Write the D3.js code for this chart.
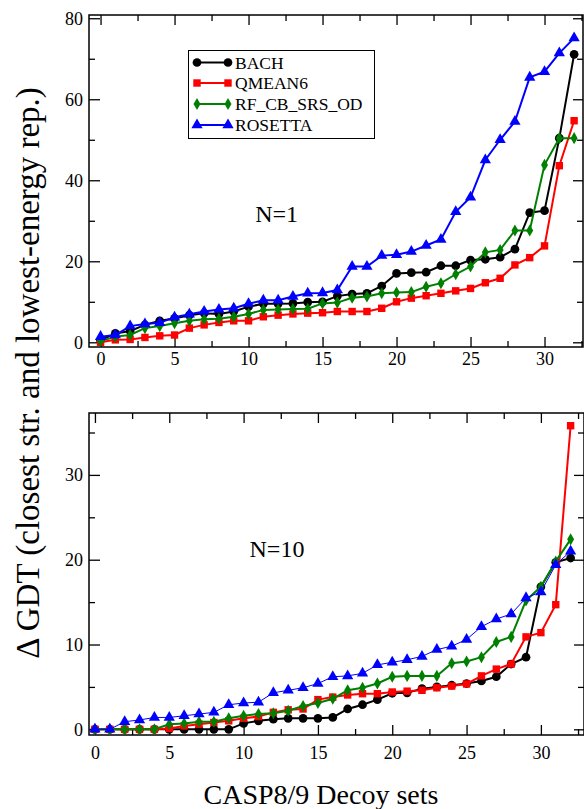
<!DOCTYPE html>
<html><head><meta charset="utf-8">
<script src="https://cdn.jsdelivr.net/npm/d3@7"></script>
<style>body{margin:0;background:#fff}svg{display:block}text{font-family:"Liberation Serif","Times New Roman",serif}</style>
</head><body>
<svg id="c" width="584" height="809"></svg>
<script>
const seriesNames = ["BACH","QMEAN6","RF_CB_SRS_OD","ROSETTA"];
const seriesColors = ["#000000","#ff0000","#008000","#0000ff"];
const seriesSymbols = ["circle","square","diamond","triangle"];
const xValues = d3.range(0,33);
// Top panel N=1
const topBACH = [0.5,2.2,2.8,4.3,5.3,5.9,6.7,7.2,7.0,7.6,8.8,9.5,9.5,9.6,9.9,10.0,11.4,11.9,12.1,13.9,17.0,17.2,17.3,18.9,18.9,20.3,20.5,21.0,23.0,32.0,32.5,50.4,71.1];
const topQMEAN6 = [0.0,0.6,0.7,1.2,1.6,1.8,3.5,4.3,4.9,5.3,5.3,6.3,6.7,7.0,7.2,7.3,7.6,7.6,7.6,8.4,10.0,10.9,11.5,12.1,12.7,13.3,14.7,15.8,19.1,20.9,23.8,43.6,54.7];
const topRF = [0.3,1.4,1.8,3.5,4.0,4.7,5.3,5.7,5.8,6.3,7.0,8.0,8.1,8.2,8.3,9.6,9.8,11.0,11.3,12.1,12.3,12.4,13.7,14.6,16.8,18.7,22.2,22.8,27.6,27.6,43.8,50.4,50.4];
const topROSETTA = [1.4,1.8,4.0,4.5,4.8,6.2,6.9,7.6,8.1,8.4,9.5,10.4,10.4,11.3,12.1,12.2,12.9,18.7,18.7,21.4,21.6,22.4,23.9,25.4,32.2,35.8,45.0,50.0,54.5,65.4,66.8,71.4,75.1];
// Bottom panel N=10
const botBACH = [0,0,0,0,0,0,0,0,0,0,0.7,1.0,1.2,1.3,1.3,1.3,1.4,2.4,2.9,3.5,4.25,4.3,4.8,5.0,5.2,5.4,5.7,6.2,7.7,8.5,16.8,19.7,20.2];
const botQMEAN6 = [0,0,0,0,0,0.1,0.4,0.6,0.8,1.0,1.3,1.5,2.0,2.3,2.4,3.5,3.8,4.05,4.2,4.2,4.4,4.5,4.6,4.9,5.1,5.35,6.3,7.1,7.7,10.9,11.4,14.7,35.8];
const botRF = [0,0,0,0,0,0.6,0.7,0.9,0.9,1.3,1.6,1.8,1.9,2.2,2.75,3.1,3.6,4.6,4.9,5.4,6.2,6.3,6.3,6.3,7.8,8.0,8.5,10.3,10.9,15.2,16.8,19.8,22.4];
const botROSETTA = [0,0,0.9,1.1,1.4,1.4,1.6,1.8,2.0,2.9,3.1,3.2,4.3,4.6,4.9,5.4,6.2,6.3,6.6,7.6,7.9,8.2,8.6,9.4,9.8,10.6,12.1,13.0,13.6,15.5,16.2,19.4,21.0];
const xMajorTicks = [0,5,10,15,20,25,30];
const xMinorTicks = [2.5,7.5,12.5,17.5,22.5,27.5,32.5];
const topYMajor = [0,20,40,60,80], topYMinor = [10,30,50,70];
const botYMajor = [0,10,20,30], botYMinor = [5,15,25,35];

const FONT = '"Liberation Serif","Times New Roman",serif';
const svg = d3.select("#c");

function symbolOf(k){
  const types = {circle:d3.symbolCircle, square:d3.symbolSquare, diamond:d3.symbolDiamond, triangle:d3.symbolTriangle};
  const sizes = {circle:60, square:55, diamond:42, triangle:55};
  return d3.symbol().type(types[seriesSymbols[k]]).size(sizes[seriesSymbols[k]])();
}

function panel(cfg){
  const x = d3.scaleLinear().domain(cfg.xdom).range([cfg.left, cfg.right]);
  const y = d3.scaleLinear().domain(cfg.ydom).range([cfg.bottom, cfg.top]);
  const g = svg.append("g");
  const W = cfg.right-cfg.left, H = cfg.bottom-cfg.top;
  const xm = xMinorTicks.filter(v=>x(v)<cfg.right);
  const axB = d3.axisBottom(x).tickValues(xMajorTicks).tickSize(-10).tickPadding(cfg.xpad).tickFormat(d3.format("d"));
  const axBm = d3.axisBottom(x).tickValues(xm).tickSize(-6).tickFormat("");
  const axT = d3.axisTop(x).tickValues(xMajorTicks).tickSize(-10).tickFormat("");
  const axTm = d3.axisTop(x).tickValues(xm).tickSize(-6).tickFormat("");
  const axL = d3.axisLeft(y).tickValues(cfg.yMajor).tickSize(-11).tickPadding(6).tickFormat(d3.format("d"));
  const axLm = d3.axisLeft(y).tickValues(cfg.yMinor).tickSize(-6).tickFormat("");
  const axR = d3.axisRight(y).tickValues(cfg.yMajor).tickSize(-10).tickFormat("");
  const axRm = d3.axisRight(y).tickValues(cfg.yMinor).tickSize(-6).tickFormat("");
  const ax = [[axB,`translate(0,${cfg.bottom})`],[axBm,`translate(0,${cfg.bottom})`],
    [axT,`translate(0,${cfg.top})`],[axTm,`translate(0,${cfg.top})`],
    [axL,`translate(${cfg.left},0)`],[axLm,`translate(${cfg.left},0)`],
    [axR,`translate(${cfg.right},0)`],[axRm,`translate(${cfg.right},0)`]];
  ax.forEach(([a,t])=>{
    const s = g.append("g").attr("transform",t).call(a).attr("font-family",FONT).attr("font-size",18);
    s.select(".domain").remove();
    s.selectAll("line").attr("stroke","#000").attr("stroke-width",1.3);
    s.selectAll("text").attr("fill","#000");
  });
  g.append("rect").attr("x",cfg.left).attr("y",cfg.top).attr("width",W).attr("height",H)
    .attr("fill","none").attr("stroke","#000").attr("stroke-width",1.5);
  const line = d3.line().x((d,i)=>x(xValues[i])).y(d=>y(d));
  cfg.data.forEach((vals,k)=>{
    const sw = (cfg.thinBlue && k===3) ? 1 : 2;
    g.append("path").datum(vals).attr("d",line).attr("fill","none")
      .attr("stroke",seriesColors[k]).attr("stroke-width",sw);
    const sym = symbolOf(k);
    g.append("g").selectAll("path").data(vals).join("path")
      .attr("transform",(d,i)=>`translate(${x(xValues[i])},${y(d)})`)
      .attr("d",sym).attr("fill",seriesColors[k]);
  });
  g.append("text").attr("x",x(cfg.labelX)).attr("y",y(cfg.labelY)).attr("font-size",24)
    .attr("font-family",FONT).attr("fill","#000").text(cfg.label);
  return {x,y,g};
}

panel({left:89,right:583,top:15,bottom:347,xdom:[-0.78,32.6],ydom:[-1.16,80.8],xpad:5,
  yMajor:topYMajor,yMinor:topYMinor,data:[topBACH,topQMEAN6,topRF,topROSETTA],
  label:"N=1",labelX:10.45,labelY:29.7});
panel({left:89,right:584,top:413,bottom:735,xdom:[-0.40,32.9],ydom:[-0.67,37.3],xpad:11,
  yMajor:botYMajor,yMinor:botYMinor,data:[botBACH,botQMEAN6,botRF,botROSETTA],thinBlue:true,
  label:"N=10",labelX:10.4,labelY:20.3});

// legend
const lg = svg.append("g").attr("font-family",FONT);
lg.append("rect").attr("x",188.5).attr("y",50.5).attr("width",186).attr("height",88)
  .attr("fill","#fff").attr("stroke","#000").attr("stroke-width",1);
seriesNames.forEach((n,k)=>{
  const yy = [62.5,83,104,125][k];
  lg.append("line").attr("x1",197).attr("x2",228).attr("y1",yy).attr("y2",yy)
    .attr("stroke",seriesColors[k]).attr("stroke-width",2);
  [197,228].forEach(xx=>lg.append("path").attr("transform",`translate(${xx},${yy})`)
    .attr("d",symbolOf(k)).attr("fill",seriesColors[k]));
  lg.append("text").attr("x",235).attr("y",yy+6).attr("font-size",17.5).attr("fill","#000").text(n);
});

// axis titles
svg.append("text").attr("x",321).attr("y",804).attr("text-anchor","middle").attr("font-size",28)
  .attr("font-family",FONT).attr("fill","#000").text("CASP8/9 Decoy sets");
svg.append("text").attr("transform","translate(39,373) rotate(-90)").attr("text-anchor","middle")
  .attr("font-size",33).attr("font-family",FONT).attr("fill","#000").text("Δ GDT (closest str. and lowest-energy rep.)");
</script>
</body></html>
